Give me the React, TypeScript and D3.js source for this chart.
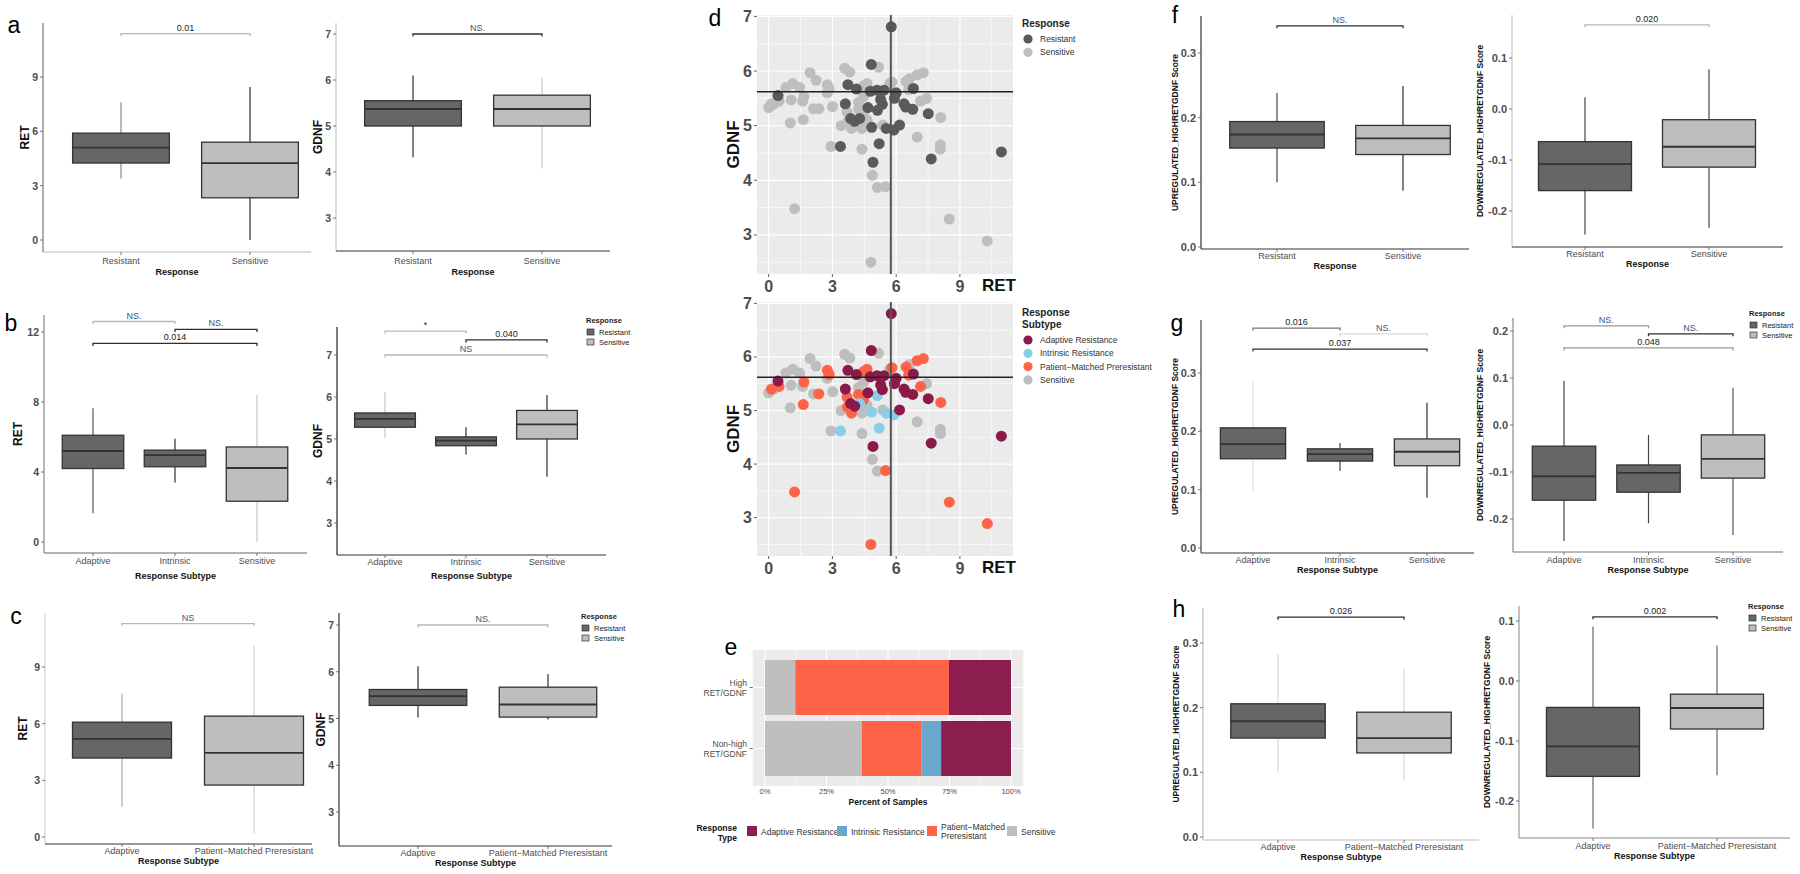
import React from 'react';
import * as d3 from 'd3';

const FONT = "'Liberation Sans', Arial, Helvetica, sans-serif";

// ---------------- DATA ----------------
const responseCats = ['Resistant', 'Sensitive'];
const subtype3Cats = ['Adaptive', 'Intrinsic', 'Sensitive'];
const subtype2Cats = ['Adaptive', 'Patient\u2212Matched Preresistant'];

const retTicks9 = [0, 3, 6, 9];
const retTicks12 = [0, 4, 8, 12];
const gdnfTicks = [3, 4, 5, 6, 7];
const upTicks = [0, 0.1, 0.2, 0.3];
const downTicks3 = [-0.2, -0.1, 0, 0.1];
const downTicks4 = [-0.2, -0.1, 0, 0.1, 0.2];

// box stats: [lower whisker, Q1, median, Q3, upper whisker]
const aRetStats = [[3.4, 4.25, 5.1, 5.9, 7.6], [0, 2.33, 4.25, 5.4, 8.45]];
const aGdnfStats = [[4.32, 5.0, 5.37, 5.55, 6.1], [4.08, 5.0, 5.37, 5.67, 6.05]];
const bRetStats = [[1.65, 4.2, 5.2, 6.1, 7.65], [3.4, 4.3, 4.97, 5.25, 5.9], [0, 2.33, 4.23, 5.43, 8.4]];
const bGdnfStats = [[5.02, 5.28, 5.48, 5.62, 6.12], [4.63, 4.84, 4.96, 5.05, 5.28], [4.1, 5.0, 5.35, 5.68, 6.05]];
const cRetStats = [[1.6, 4.18, 5.2, 6.08, 7.6], [0.2, 2.75, 4.45, 6.4, 10.15]];
const cGdnfStats = [[5.02, 5.28, 5.48, 5.62, 6.12], [4.98, 5.03, 5.3, 5.67, 5.95]];
const fUpStats = [[0.1, 0.153, 0.174, 0.194, 0.238], [0.087, 0.143, 0.168, 0.188, 0.249]];
const fDownStats = [[-0.246, -0.16, -0.108, -0.064, 0.023], [-0.233, -0.114, -0.074, -0.021, 0.078]];
const gUpStats = [[0.098, 0.153, 0.178, 0.206, 0.285], [0.132, 0.149, 0.161, 0.17, 0.18], [0.086, 0.141, 0.165, 0.187, 0.249]];
const gDownStats = [[-0.247, -0.16, -0.109, -0.045, 0.094], [-0.209, -0.143, -0.102, -0.085, -0.021], [-0.234, -0.113, -0.072, -0.021, 0.079]];
const hUpStats = [[0.1, 0.153, 0.179, 0.206, 0.283], [0.087, 0.13, 0.153, 0.193, 0.26]];
const hDownStats = [[-0.246, -0.159, -0.109, -0.044, 0.091], [-0.157, -0.08, -0.045, -0.022, 0.059]];

// significance brackets: [from index, to index, y value, label]
const aRetBrackets: [number, number, number, string][] = [[0, 1, 11.4, '0.01']];
const aGdnfBrackets: [number, number, number, string][] = [[0, 1, 7.0, 'NS.']];
const bRetBrackets: [number, number, number, string][] = [[0, 1, 12.6, 'NS.'], [1, 2, 12.15, 'NS.'], [0, 2, 11.35, '0.014']];
const bGdnfBrackets: [number, number, number, string][] = [[0, 1, 7.57, '*'], [1, 2, 7.36, '0.040'], [0, 2, 7.0, 'NS']];
const cRetBrackets: [number, number, number, string][] = [[0, 1, 11.3, 'NS']];
const cGdnfBrackets: [number, number, number, string][] = [[0, 1, 7.0, 'NS.']];
const fUpBrackets: [number, number, number, string][] = [[0, 1, 0.342, 'NS.']];
const fDownBrackets: [number, number, number, string][] = [[0, 1, 0.165, '0.020']];
const gUpBrackets: [number, number, number, string][] = [[0, 1, 0.377, '0.016'], [1, 2, 0.367, 'NS.'], [0, 2, 0.341, '0.037']];
const gDownBrackets: [number, number, number, string][] = [[0, 1, 0.211, 'NS.'], [1, 2, 0.194, 'NS.'], [0, 2, 0.164, '0.048']];
const hUpBrackets: [number, number, number, string][] = [[0, 1, 0.34, '0.026']];
const hDownBrackets: [number, number, number, string][] = [[0, 1, 0.107, '0.002']];

// scatter (panel d): RET, GDNF, subtype (S Sensitive, P Patient-Matched Preresistant, I Intrinsic, A Adaptive)
const scatterRET = [
  0.0, 0.08, 0.25, 0.81, 1.14, 1.46, 1.06, 1.02, 1.95, 2.23, 2.76, 2.11, 3.01, 3.58, 3.82, 5.17, 5.70, 6.63, 7.43, 8.08, 8.08, 6.99, 2.93, 4.39, 4.88, 5.12, 3.41, 3.90, 4.39, 4.63, 5.37, 4.23, 4.47, 5.69, 4.55, 1.60,
  2.76, 2.85, 1.66, 1.63, 2.36, 0.49, 0.13, 1.22, 5.50, 4.81, 8.50, 10.29, 8.10, 7.15, 6.99, 7.28, 6.47, 6.59, 5.80, 4.47, 4.63, 3.69, 3.71, 3.90, 4.23, 4.47,
  3.38, 5.20, 5.12, 4.28, 4.85, 5.53, 5.89,
  5.77, 4.83, 0.44, 3.73, 4.13, 3.61, 3.86, 4.67, 4.78, 5.10, 5.43, 5.27, 5.35, 6.00, 5.92, 6.37, 6.81, 6.78, 7.51, 6.16, 4.91, 7.65, 10.95, 6.45, 4.05,
];
const scatterGDNF = [
  5.33, 5.36, 5.40, 5.70, 5.77, 5.70, 5.47, 5.05, 5.97, 5.83, 5.60, 5.31, 5.35, 6.05, 5.98, 6.07, 5.77, 5.86, 5.50, 4.65, 4.57, 4.79, 4.62, 4.57, 4.09, 3.87, 5.00, 5.07, 4.95, 5.10, 5.01, 5.43, 5.53, 5.73, 5.62, 5.45,
  5.75, 5.67, 5.53, 5.11, 5.31, 5.45, 5.40, 3.48, 3.88, 2.50, 3.29, 2.89, 5.15, 5.45, 5.93, 5.97, 5.81, 5.66, 5.80, 5.73, 5.77, 5.25, 5.07, 4.95, 5.30, 5.21,
  4.62, 4.67, 5.28, 5.13, 4.97, 4.95, 4.92,
  6.81, 6.12, 5.55, 5.75, 5.67, 5.40, 5.13, 5.33, 5.63, 5.65, 5.65, 5.48, 5.39, 5.60, 5.50, 5.40, 5.68, 5.30, 5.22, 5.01, 4.33, 4.39, 4.52, 5.34, 5.08,
];
const scatterSubtype = [
  ...'SSSSSSSSSSSSSSSSSSSSSSSSSSSSSSSSSSSS'.split(''),
  ...'PPPPPPPPPPPPPPPPPPPPPPPPPP'.split(''),
  ...'IIIIIII'.split(''),
  ...'AAAAAAAAAAAAAAAAAAAAAAAAA'.split(''),
];
const retCutoff = 5.75;
const gdnfCutoff = 5.62;

// panel e: percent of samples
const eGroups = ['High RET/GDNF', 'Non-high RET/GDNF'];
const eSensitive = [12.3, 39.4];
const ePMP = [62.5, 24.1];
const eIntrinsic = [0, 8.1];
const eAdaptive = [25.2, 28.4];
const ePctTicks = [0, 25, 50, 75, 100];

// ---------------- STYLE ----------------
const RES_FILL = '#666666';
const SEN_FILL = '#bebebe';
const DARK = '#2e2e2e';
const LIGHT = '#b8b8b8';
const subtypeColor: Record<string, string> = { A: '#8b1a4b', I: '#87ceeb', P: '#ff6347', S: '#bebebe' };
const responseColor: Record<string, string> = { A: '#5a5a5a', I: '#5a5a5a', P: '#bebebe', S: '#bebebe' };
const eColors = { Sensitive: '#bebebe', PMP: '#ff6347', Intrinsic: '#6ba6cd', Adaptive: '#8b1e4f' };

type Panel = {
  cats: string[];
  stats: number[][];
  brackets: [number, number, number, string][];
  ticks: number[];
  fmt: (n: number) => string;
  yLabel: string;
  xTitle: string;
  fills: string[];
  whisk: string[];
  tones: string[];
  small: boolean;
  L: any;
};

const f0 = d3.format('d');
const f1 = (n: number) => d3.format('.1f')(n).replace('\u2212', '-');

const panels: Panel[] = [
  { cats: responseCats, stats: aRetStats, brackets: aRetBrackets, ticks: retTicks9, fmt: f0, yLabel: 'RET', xTitle: 'Response',
    fills: [RES_FILL, SEN_FILL], whisk: ['#888', DARK], tones: [LIGHT], small: false,
    L: { x0: 43, x1: 311, yTop: 23, yBot: 252, v0: 0, p0: 240, v1: 9, p1: 77, c0: 121, c1: 250, yLabX: 25, xLabY: 261, xTitleY: 272, ay: '#777', ax: '#bbb' } },
  { cats: responseCats, stats: aGdnfStats, brackets: aGdnfBrackets, ticks: gdnfTicks, fmt: f0, yLabel: 'GDNF', xTitle: 'Response',
    fills: [RES_FILL, SEN_FILL], whisk: [DARK, '#c8c8c8'], tones: [DARK], small: false,
    L: { x0: 336, x1: 610, yTop: 23, yBot: 251, v0: 3, p0: 218, v1: 7, p1: 34, c0: 413, c1: 542, yLabX: 318, xLabY: 261, xTitleY: 272, ay: '#c8c8c8', ax: '#333' } },
  { cats: subtype3Cats, stats: bRetStats, brackets: bRetBrackets, ticks: retTicks12, fmt: f0, yLabel: 'RET', xTitle: 'Response Subtype',
    fills: [RES_FILL, RES_FILL, SEN_FILL], whisk: ['#555', DARK, '#c8c8c8'], tones: [LIGHT, DARK, DARK], small: false,
    L: { x0: 44, x1: 307, yTop: 315, yBot: 553, v0: 0, p0: 542, v1: 12, p1: 332, c0: 93, c1: 257, yLabX: 18, xLabY: 561, xTitleY: 576, ay: '#888', ax: '#666' } },
  { cats: subtype3Cats, stats: bGdnfStats, brackets: bGdnfBrackets, ticks: gdnfTicks, fmt: f0, yLabel: 'GDNF', xTitle: 'Response Subtype',
    fills: [RES_FILL, RES_FILL, SEN_FILL], whisk: ['#c8c8c8', DARK, DARK], tones: [LIGHT, DARK, LIGHT], small: false,
    L: { x0: 337, x1: 606, yTop: 327, yBot: 555, v0: 3, p0: 523, v1: 7, p1: 355, c0: 385, c1: 547, yLabX: 318, xLabY: 562, xTitleY: 576, ay: '#222', ax: '#333' } },
  { cats: subtype2Cats, stats: cRetStats, brackets: cRetBrackets, ticks: retTicks9, fmt: f0, yLabel: 'RET', xTitle: 'Response Subtype',
    fills: [RES_FILL, SEN_FILL], whisk: ['#aaa', '#d0d0d0'], tones: [LIGHT], small: false,
    L: { x0: 45, x1: 312, yTop: 613, yBot: 844, v0: 0, p0: 837, v1: 9, p1: 667, c0: 122, c1: 254, yLabX: 23, xLabY: 851, xTitleY: 861, ay: '#d4d4d4', ax: '#333' } },
  { cats: subtype2Cats, stats: cGdnfStats, brackets: cGdnfBrackets, ticks: gdnfTicks, fmt: f0, yLabel: 'GDNF', xTitle: 'Response Subtype',
    fills: [RES_FILL, SEN_FILL], whisk: [DARK, DARK], tones: [LIGHT], small: false,
    L: { x0: 339, x1: 612, yTop: 613, yBot: 846, v0: 3, p0: 812, v1: 7, p1: 625, c0: 418, c1: 548, yLabX: 321, xLabY: 853, xTitleY: 863, ay: '#333', ax: '#333' } },
  { cats: responseCats, stats: fUpStats, brackets: fUpBrackets, ticks: upTicks, fmt: f1, yLabel: 'UPREGULATED_HIGHRETGDNF Score', xTitle: 'Response',
    fills: [RES_FILL, SEN_FILL], whisk: ['#444', DARK], tones: [DARK], small: true,
    L: { x0: 1201, x1: 1469, yTop: 16, yBot: 249, v0: 0, p0: 247, v1: 0.3, p1: 53, c0: 1277, c1: 1403, yLabX: 1175, xLabY: 256, xTitleY: 266, ay: '#333', ax: '#333' } },
  { cats: responseCats, stats: fDownStats, brackets: fDownBrackets, ticks: downTicks3, fmt: f1, yLabel: 'DOWNREGULATED_HIGHRETGDNF Score', xTitle: 'Response',
    fills: [RES_FILL, SEN_FILL], whisk: ['#444', '#444'], tones: [LIGHT], small: true,
    L: { x0: 1512, x1: 1783, yTop: 15, yBot: 247, v0: 0, p0: 109, v1: 0.1, p1: 58, c0: 1585, c1: 1709, yLabX: 1480, xLabY: 254, xTitleY: 264, ay: '#c8c8c8', ax: '#333' } },
  { cats: subtype3Cats, stats: gUpStats, brackets: gUpBrackets, ticks: upTicks, fmt: f1, yLabel: 'UPREGULATED_HIGHRETGDNF Score', xTitle: 'Response Subtype',
    fills: [RES_FILL, RES_FILL, SEN_FILL], whisk: ['#e0e0e0', '#444', DARK], tones: ['#777', '#d8d8d8', DARK], small: true,
    L: { x0: 1201, x1: 1474, yTop: 320, yBot: 553, v0: 0, p0: 548, v1: 0.3, p1: 373, c0: 1253, c1: 1427, yLabX: 1175, xLabY: 560, xTitleY: 570, ay: '#444', ax: '#333' } },
  { cats: subtype3Cats, stats: gDownStats, brackets: gDownBrackets, ticks: downTicks4, fmt: f1, yLabel: 'DOWNREGULATED_HIGHRETGDNF Score', xTitle: 'Response Subtype',
    fills: [RES_FILL, RES_FILL, SEN_FILL], whisk: ['#444', '#444', '#555'], tones: ['#999', DARK, '#999'], small: true,
    L: { x0: 1513, x1: 1783, yTop: 318, yBot: 552, v0: 0, p0: 425, v1: 0.2, p1: 331, c0: 1564, c1: 1733, yLabX: 1480, xLabY: 560, xTitleY: 570, ay: '#888', ax: '#777' } },
  { cats: subtype2Cats, stats: hUpStats, brackets: hUpBrackets, ticks: upTicks, fmt: f1, yLabel: 'UPREGULATED_HIGHRETGDNF Score', xTitle: 'Response Subtype',
    fills: [RES_FILL, SEN_FILL], whisk: ['#d8d8d8', '#d8d8d8'], tones: [DARK], small: true,
    L: { x0: 1203, x1: 1479, yTop: 608, yBot: 840, v0: 0, p0: 837, v1: 0.3, p1: 643, c0: 1278, c1: 1404, yLabX: 1176, xLabY: 847, xTitleY: 857, ay: '#bbb', ax: '#bbb' } },
  { cats: subtype2Cats, stats: hDownStats, brackets: hDownBrackets, ticks: downTicks3, fmt: f1, yLabel: 'DOWNREGULATED_HIGHRETGDNF Score', xTitle: 'Response Subtype',
    fills: [RES_FILL, SEN_FILL], whisk: ['#666', '#666'], tones: [DARK], small: true,
    L: { x0: 1519, x1: 1790, yTop: 606, yBot: 838, v0: 0, p0: 681, v1: 0.1, p1: 621, c0: 1593, c1: 1717, yLabX: 1487, xLabY: 846, xTitleY: 856, ay: '#999', ax: '#888' } },
];

function BoxPanel({ p }: { p: Panel }) {
  const L = p.L;
  const y = d3.scaleLinear().domain([L.v0, L.v1]).range([L.p0, L.p1]);
  const x = d3.scalePoint<string>().domain(p.cats).range([L.c0, L.c1]);
  const step = (L.c1 - L.c0) / (p.cats.length - 1);
  const bw = step * 0.75;
  const tickSize = p.small ? 11 : 10.5;
  const yMid = (L.yTop + L.yBot) / 2;
  return (
    <g fontFamily={FONT}>
      <line x1={L.x0} y1={L.yTop} x2={L.x0} y2={L.yBot} stroke={L.ay} strokeWidth={1.2} />
      <line x1={L.x0} y1={L.yBot} x2={L.x1} y2={L.yBot} stroke={L.ax} strokeWidth={1.2} />
      {p.ticks.map((t) => (
        <g key={t}>
          <line x1={L.x0 - 3} x2={L.x0} y1={y(t)} y2={y(t)} stroke="#555" strokeWidth={0.8} />
          <text x={L.x0 - 5} y={y(t)} textAnchor="end" dominantBaseline="central" fontSize={tickSize}
            fontWeight="bold" fill="#4d4d4d">{p.fmt(t)}</text>
        </g>
      ))}
      {p.cats.map((c, i) => {
        const cx = x(c) as number;
        const s = p.stats[i];
        return (
          <g key={c}>
            <line x1={cx} x2={cx} y1={y(s[4])} y2={y(s[3])} stroke={p.whisk[i]} strokeWidth={1.2} />
            <line x1={cx} x2={cx} y1={y(s[1])} y2={y(s[0])} stroke={p.whisk[i]} strokeWidth={1.2} />
            <rect x={cx - bw / 2} y={y(s[3])} width={bw} height={y(s[1]) - y(s[3])} fill={p.fills[i]}
              stroke="#333" strokeWidth={1.3} />
            <line x1={cx - bw / 2} x2={cx + bw / 2} y1={y(s[2])} y2={y(s[2])} stroke="#333" strokeWidth={1.8} />
            <line x1={cx} x2={cx} y1={L.yBot} y2={L.yBot + 3} stroke="#555" strokeWidth={0.8} />
            <text x={cx} y={L.xLabY} textAnchor="middle" dominantBaseline="central" fontSize={9}
              fill="#4d4d4d">{c}</text>
          </g>
        );
      })}
      {p.brackets.map(([a, b, v, lab], i) => {
        const xa = x(p.cats[a]) as number;
        const xb = x(p.cats[b]) as number;
        const by = y(v);
        const col = p.tones[i] || DARK;
        return (
          <g key={i}>
            <path d={`M${xa},${by + 2.5}V${by}H${xb}V${by + 2.5}`} fill="none" stroke={col} strokeWidth={1.3} />
            <text x={(xa + xb) / 2} y={by - 3} textAnchor="middle" fontSize={9}
              fill={lab.startsWith('NS') ? '#3c5278' : '#222'}>{lab}</text>
          </g>
        );
      })}
      <text x={(L.x0 + L.x1) / 2} y={L.xTitleY} textAnchor="middle" dominantBaseline="central" fontSize={9}
        fontWeight="bold" fill="#111">{p.xTitle}</text>
      <text transform={`translate(${L.yLabX},${yMid}) rotate(-90)`} textAnchor="middle" dominantBaseline="central"
        fontSize={p.small ? 8.5 : 12} fontWeight="bold" fill="#111">{p.yLabel}</text>
    </g>
  );
}

function BoxLegend({ x, y }: { x: number; y: number }) {
  return (
    <g fontFamily={FONT} fontSize={7.5}>
      <text x={x} y={y} dominantBaseline="central" fontWeight="bold" fill="#222">Response</text>
      {responseCats.map((c, i) => (
        <g key={c}>
          <rect x={x + 1} y={y + 9 + i * 10} width={7} height={6} fill={i === 0 ? RES_FILL : SEN_FILL}
            stroke="#333" strokeWidth={0.7} />
          <text x={x + 13} y={y + 12 + i * 10} dominantBaseline="central" fill="#222">{c}</text>
        </g>
      ))}
    </g>
  );
}

const retExt = d3.extent(scatterRET) as [number, number];
const gdnfExt = d3.extent(scatterGDNF) as [number, number];
const retPad = (retExt[1] - retExt[0]) * 0.05;
const gdnfPad = (gdnfExt[1] - gdnfExt[0]) * 0.05;
const xTicksD = [0, 3, 6, 9];
const yTicksD = [3, 4, 5, 6, 7];

function Scatter({ top, bottom, colors }: { top: number; bottom: number; colors: Record<string, string> }) {
  const left = 757, right = 1013;
  const x = d3.scaleLinear().domain([retExt[0] - retPad, retExt[1] + retPad]).range([left, right]);
  const y = d3.scaleLinear().domain([gdnfExt[0] - gdnfPad, gdnfExt[1] + gdnfPad]).range([bottom, top]);
  const xMinor = [1.5, 4.5, 7.5, 10.5];
  const yMinor = [2.5, 3.5, 4.5, 5.5, 6.5];
  return (
    <g fontFamily={FONT}>
      <rect x={left} y={top} width={right - left} height={bottom - top} fill="#ebebeb" />
      {xMinor.map((v) => <line key={'xm' + v} x1={x(v)} x2={x(v)} y1={top} y2={bottom} stroke="#fff" strokeWidth={0.6} />)}
      {yMinor.map((v) => <line key={'ym' + v} x1={left} x2={right} y1={y(v)} y2={y(v)} stroke="#fff" strokeWidth={0.6} />)}
      {xTicksD.map((v) => <line key={'xM' + v} x1={x(v)} x2={x(v)} y1={top} y2={bottom} stroke="#fff" strokeWidth={1.2} />)}
      {yTicksD.map((v) => <line key={'yM' + v} x1={left} x2={right} y1={y(v)} y2={y(v)} stroke="#fff" strokeWidth={1.2} />)}
      {scatterRET.map((r, i) => (
        <circle key={i} cx={x(r)} cy={y(scatterGDNF[i])} r={5.5} fill={colors[scatterSubtype[i]]} />
      ))}
      <line x1={x(retCutoff)} x2={x(retCutoff)} y1={top} y2={bottom} stroke="#555" strokeWidth={2} />
      <line x1={left} x2={right} y1={y(gdnfCutoff)} y2={y(gdnfCutoff)} stroke="#222" strokeWidth={1.5} />
      {yTicksD.map((v) => (
        <g key={'yt' + v}>
          <line x1={left - 3} x2={left} y1={y(v)} y2={y(v)} stroke="#333" strokeWidth={0.8} />
          <text x={left - 5} y={y(v)} textAnchor="end" dominantBaseline="central" fontSize={16} fontWeight="bold" fill="#4d4d4d">{v}</text>
        </g>
      ))}
      {xTicksD.map((v) => (
        <g key={'xt' + v}>
          <line x1={x(v)} x2={x(v)} y1={bottom} y2={bottom + 3} stroke="#333" strokeWidth={0.8} />
          <text x={x(v)} y={bottom + 12} textAnchor="middle" dominantBaseline="central" fontSize={16} fontWeight="bold" fill="#4d4d4d">{v}</text>
        </g>
      ))}
      <text x={999} y={bottom + 11} textAnchor="middle" dominantBaseline="central" fontSize={17} fontWeight="bold" fill="#111">RET</text>
      <text transform={`translate(733,${(top + bottom) / 2}) rotate(-90)`} textAnchor="middle" dominantBaseline="central"
        fontSize={17} fontWeight="bold" fill="#111">GDNF</text>
    </g>
  );
}

function StackedBar() {
  const left = 765, right = 1011;
  const x = d3.scaleLinear().domain([0, 100]).range([left, right]);
  const y = d3.scalePoint<string>().domain(eGroups).range([687.5, 748.5]);
  const barH = 55;
  const keys = ['Sensitive', 'PMP', 'Intrinsic', 'Adaptive'];
  const rows = eGroups.map((g, i) => ({ g, Sensitive: eSensitive[i], PMP: ePMP[i], Intrinsic: eIntrinsic[i], Adaptive: eAdaptive[i] }));
  const series = d3.stack<any>().keys(keys)(rows);
  const bgL = x(-5), bgR = x(105);
  const minor = [12.5, 37.5, 62.5, 87.5];
  const legendItems = [
    { k: 'Adaptive', lines: ['Adaptive Resistance'], kx: 747 },
    { k: 'Intrinsic', lines: ['Intrinsic Resistance'], kx: 837 },
    { k: 'PMP', lines: ['Patient\u2212Matched', 'Preresistant'], kx: 927 },
    { k: 'Sensitive', lines: ['Sensitive'], kx: 1007 },
  ];
  return (
    <g fontFamily={FONT}>
      <rect x={bgL} y={650} width={bgR - bgL} height={136} fill="#ebebeb" />
      {minor.map((v) => <line key={'m' + v} x1={x(v)} x2={x(v)} y1={650} y2={786} stroke="#fff" strokeWidth={0.6} />)}
      {ePctTicks.map((v) => <line key={'M' + v} x1={x(v)} x2={x(v)} y1={650} y2={786} stroke="#fff" strokeWidth={1.2} />)}
      {eGroups.map((g) => <line key={'h' + g} x1={bgL} x2={bgR} y1={y(g)} y2={y(g)} stroke="#fff" strokeWidth={1.2} />)}
      {series.map((s) => s.map((d: any, i: number) => (
        <rect key={s.key + i} x={x(d[0])} y={(y(eGroups[i]) as number) - barH / 2} width={Math.max(0, x(d[1]) - x(d[0]))}
          height={barH} fill={(eColors as any)[s.key]} />
      )))}
      {ePctTicks.map((v) => (
        <text key={'t' + v} x={x(v)} y={791} textAnchor="middle" dominantBaseline="central" fontSize={7.5} fill="#4d4d4d">{v}%</text>
      ))}
      <text x={(bgL + bgR) / 2} y={802} textAnchor="middle" dominantBaseline="central" fontSize={8.5} fontWeight="bold" fill="#111">Percent of Samples</text>
      {eGroups.map((g) => {
        const parts = g.split(' ');
        const cy = y(g) as number;
        return (
          <g key={'yl' + g}>
            <line x1={bgL - 3} x2={bgL} y1={cy} y2={cy} stroke="#333" strokeWidth={0.7} />
            <text x={747} y={cy - 5} textAnchor="end" dominantBaseline="central" fontSize={8.5} fill="#4d4d4d">{parts[0]}</text>
            <text x={747} y={cy + 5} textAnchor="end" dominantBaseline="central" fontSize={8.5} fill="#4d4d4d">{parts[1]}</text>
          </g>
        );
      })}
      <text x={737} y={828} textAnchor="end" dominantBaseline="central" fontSize={8.5} fontWeight="bold" fill="#111">Response</text>
      <text x={737} y={838} textAnchor="end" dominantBaseline="central" fontSize={8.5} fontWeight="bold" fill="#111">Type</text>
      {legendItems.map((it) => (
        <g key={it.k}>
          <rect x={it.kx} y={826} width={10} height={10} fill={(eColors as any)[it.k]} />
          {it.lines.map((ln, j) => (
            <text key={j} x={it.kx + 14} y={it.lines.length === 1 ? 832 : 827 + j * 9} dominantBaseline="central" fontSize={8.5} fill="#333">{ln}</text>
          ))}
        </g>
      ))}
    </g>
  );
}

function ScatterLegend({ y0, title, items }: { y0: number; title: string[]; items: { label: string; color: string }[] }) {
  const titleH = title.length * 12;
  return (
    <g fontFamily={FONT}>
      {title.map((t, i) => (
        <text key={t} x={1022} y={y0 + i * 12} dominantBaseline="central" fontSize={10} fontWeight="bold" fill="#222">{t}</text>
      ))}
      {items.map((it, i) => (
        <g key={it.label}>
          <circle cx={1028} cy={y0 + titleH + 4 + i * 13.3} r={4.6} fill={it.color} />
          <text x={1040} y={y0 + titleH + 4 + i * 13.3} dominantBaseline="central" fontSize={8.5} fill="#333">{it.label}</text>
        </g>
      ))}
    </g>
  );
}

const letters: [string, number, number][] = [
  ['a', 14, 25], ['b', 11, 323], ['c', 16, 616], ['d', 715, 18], ['e', 731, 647], ['f', 1175, 15], ['g', 1177, 323], ['h', 1179, 609],
];

export default function App() {
  return (
    <svg width={1800} height={874} viewBox="0 0 1800 874"
      style={{ position: 'absolute', left: 0, top: 0, background: '#fff', display: 'block' }}>
      <rect x={0} y={0} width={1800} height={874} fill="#fff" />
      {panels.map((p, i) => <BoxPanel key={i} p={p} />)}
      <BoxLegend x={586} y={320} />
      <BoxLegend x={581} y={616} />
      <BoxLegend x={1749} y={313} />
      <BoxLegend x={1748} y={606} />
      <Scatter top={15} bottom={274} colors={responseColor} />
      <Scatter top={302} bottom={556} colors={subtypeColor} />
      <ScatterLegend y0={23} title={['Response']} items={[{ label: 'Resistant', color: '#5a5a5a' }, { label: 'Sensitive', color: '#bebebe' }]} />
      <ScatterLegend y0={312} title={['Response', 'Subtype']} items={[
        { label: 'Adaptive Resistance', color: subtypeColor.A },
        { label: 'Intrinsic Resistance', color: subtypeColor.I },
        { label: 'Patient\u2212Matched Preresistant', color: subtypeColor.P },
        { label: 'Sensitive', color: subtypeColor.S },
      ]} />
      <StackedBar />
      {letters.map(([t, x, y]) => (
        <text key={t} x={x} y={y} textAnchor="middle" dominantBaseline="central" fontFamily={FONT} fontSize={23} fill="#000">{t}</text>
      ))}
    </svg>
  );
}
